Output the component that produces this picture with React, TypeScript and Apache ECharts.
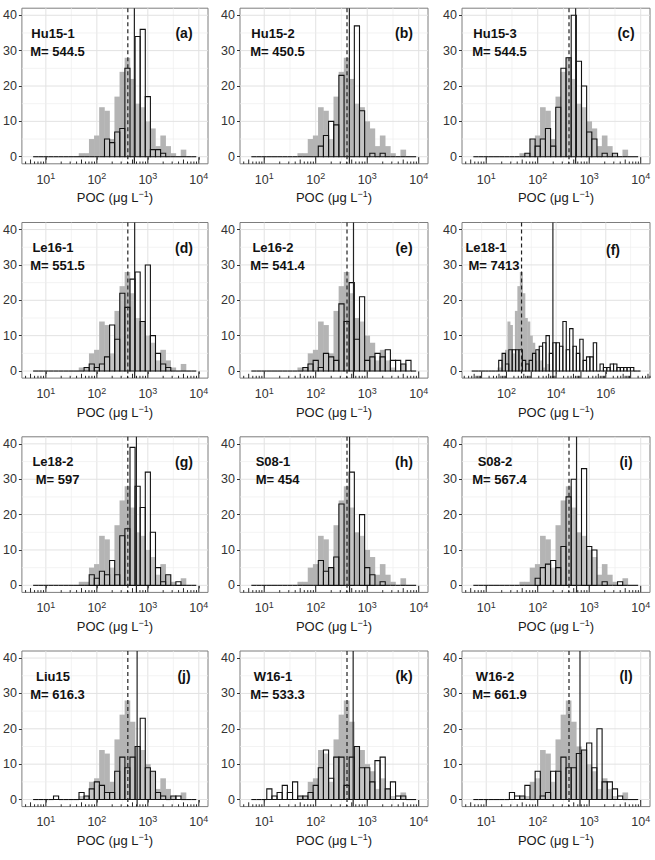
import React, { useEffect, useRef } from "react";
import * as echarts from "echarts";

const FONT = '"Liberation Sans", Arial, Helvetica, sans-serif';

// Histogram bins live in log10(POC) space.
const STD_FIRST_EDGE = 0.75; // outlined histograms of the standard panels
const GRAY_FIRST_EDGE = 1.65; // observed distribution
const BIN_WIDTH = 0.1;
const WIDE_FIRST_EDGE = 0.6; // Le18-1 covers a far wider range
const WIDE_BIN_WIDTH = 0.136;

// Observed POC distribution (grey), bins from 10^1.65 in 0.1-decade steps
const observedCounts = [1, 1, 5, 6, 14, 13, 5, 17, 24, 28, 22, 15, 14, 10, 8, 3, 6, 3, 1, 0, 2];
const observedMedian = 405;

// Modelled distributions (outlined), bins centred at 10^0.8 ... 10^3.9
const hu15_1 = [
  0, 0, 0, 0, 0, 0, 0, 0, 0, 0,
  0, 0, 0, 0, 5, 4, 7, 8, 25, 0,
  34, 36, 17, 2, 2, 1, 0, 0, 0, 0,
  0, 0,
];
const hu15_2 = [
  0, 0, 0, 0, 0, 0, 0, 0, 0, 0,
  0, 0, 0, 3, 6, 10, 9, 23, 0, 0,
  37, 13, 0, 1, 0, 1, 0, 0, 0, 0,
  0, 0,
];
const hu15_3 = [
  0, 0, 0, 0, 0, 0, 0, 0, 0, 0,
  1, 5, 3, 5, 8, 3, 14, 25, 28, 40,
  27, 20, 7, 5, 0, 1, 0, 1, 0, 0,
  0, 0,
];
const le16_1 = [
  0, 0, 0, 0, 0, 0, 0, 0, 0, 0,
  1, 2, 1, 2, 4, 13, 9, 22, 18, 26,
  28, 14, 30, 10, 5, 2, 1, 0, 0, 0,
  0, 0,
];
const le16_2 = [
  0, 0, 0, 0, 0, 0, 0, 0, 0, 0,
  1, 2, 3, 1, 5, 4, 3, 19, 14, 25,
  9, 21, 3, 4, 5, 4, 6, 3, 3, 2,
  3, 0,
];
const le18_2 = [
  0, 0, 0, 0, 0, 0, 0, 0, 0, 0,
  0, 3, 2, 4, 3, 7, 3, 14, 16, 39,
  28, 22, 32, 15, 5, 1, 3, 0, 1, 0,
  0, 0,
];
const s08_1 = [
  0, 0, 0, 0, 0, 0, 0, 0, 0, 0,
  0, 0, 0, 7, 4, 5, 8, 23, 0, 32,
  0, 20, 5, 3, 0, 1, 0, 0, 0, 0,
  0, 0,
];
const s08_2 = [
  0, 0, 0, 0, 0, 0, 0, 0, 0, 0,
  0, 0, 2, 5, 6, 7, 5, 11, 25, 30,
  0, 33, 11, 10, 0, 1, 0, 0, 1, 0,
  0, 0,
];
const liu15 = [
  0, 0, 0, 0, 1, 0, 0, 0, 0, 2,
  1, 3, 5, 4, 2, 2, 8, 12, 9, 12,
  15, 23, 9, 8, 2, 1, 0, 1, 1, 0,
  0, 0,
];
const w16_1 = [
  0, 0, 0, 3, 1, 2, 4, 2, 5, 1,
  1, 2, 4, 9, 14, 6, 12, 12, 4, 12,
  15, 9, 9, 5, 11, 12, 3, 5, 1, 1,
  0, 0,
];
const w16_2 = [
  0, 0, 0, 0, 0, 0, 0, 2, 1, 1,
  4, 0, 8, 1, 2, 8, 8, 12, 9, 9,
  13, 14, 16, 9, 20, 5, 5, 3, 1, 0,
  0, 0,
];
// Le18-1, bins from 10^0.6 in 0.136-decade steps
const le18_1 = [
  0, 0, 0, 0, 0, 0, 0, 0, 3, 5,
  2, 6, 6, 6, 6, 3, 2, 3, 5, 6,
  7, 8, 10, 5, 8, 8, 7, 14, 6, 12,
  7, 5, 9, 3, 4, 4, 8, 0, 2, 1,
  1, 2, 2, 1, 1, 1, 1, 1, 0, 0,
];

const panelNames = ["Hu15-1", "Hu15-2", "Hu15-3", "Le16-1", "Le16-2", "Le18-1", "Le18-2", "S08-1", "S08-2", "Liu15", "W16-1", "W16-2"];
const panelMedians = [544.5, 450.5, 544.5, 551.5, 541.4, 7413, 597, 454, 567.4, 616.3, 533.3, 661.9];
const panelLetters = ["(a)", "(b)", "(c)", "(d)", "(e)", "(f)", "(g)", "(h)", "(i)", "(j)", "(k)", "(l)"];
const panelCounts = [hu15_1, hu15_2, hu15_3, le16_1, le16_2, le18_1, le18_2, s08_1, s08_2, liu15, w16_1, w16_2];
const WIDE_PANEL = 5;

// Axis breaks
const stdDecades = [1, 2, 3, 4];
const stdMinorBreaks = [1.5, 2.5, 3.5];
const wideDecades = [2, 4, 6];
const wideMinorBreaks = [1, 3, 5, 7];
const countTicks = [0, 10, 20, 30, 40];
const countMinorBreaks = [5, 15, 25, 35];

// Layout
const COL_LEFT = [20, 240, 462];
const ROW_TOP = [8.2, 222.5, 436.8, 651];
const PANEL_W = 188;
const PANEL_H = 155.6;
const STD_X: [number, number] = [0.53, 4.18];
const WIDE_X: [number, number] = [0.21, 7.78];

const TEXT_DARK = "#333333";

const supRich = (size: number, supSize: number, color: string) => ({
  b: { fontSize: size, fontFamily: FONT, color, lineHeight: size, padding: [3, 0, 0, 0] },
  s: { fontSize: supSize, fontFamily: FONT, color, lineHeight: supSize, verticalAlign: "top" },
});

function binItems(firstEdge: number, width: number, counts: number[]) {
  return counts.map((c, k) => [firstEdge + k * width, firstEdge + (k + 1) * width, c]);
}

// annotation-style log ticks along the bottom of a panel
function logTicks(range: [number, number]) {
  const out: number[][] = [];
  for (let k = Math.floor(range[0]); k <= Math.ceil(range[1]); k++) {
    for (let m = 1; m <= 9; m++) {
      const v = k + Math.log10(m);
      if (v >= range[0] && v <= range[1]) out.push([v, m === 1 ? 6.6 : m === 5 ? 4.3 : 2.3]);
    }
  }
  return out;
}

function buildOption() {
  const grid: any[] = [];
  const xAxis: any[] = [];
  const yAxis: any[] = [];
  const series: any[] = [];
  const graphic: any[] = [];

  panelNames.forEach((name, i) => {
    const col = i % 3;
    const row = Math.floor(i / 3);
    const left = COL_LEFT[col];
    const top = ROW_TOP[row];
    const wide = i === WIDE_PANEL;
    const xr = wide ? WIDE_X : STD_X;
    const decades = wide ? wideDecades : stdDecades;
    const minor = wide ? wideMinorBreaks : stdMinorBreaks;

    grid.push({
      left,
      top,
      width: PANEL_W,
      height: PANEL_H,
      show: true,
      borderColor: "#7d7d7d",
      borderWidth: 1,
      backgroundColor: "transparent",
    });

    xAxis.push({
      gridIndex: i,
      type: "value",
      min: xr[0],
      max: xr[1],
      axisLine: { show: false },
      splitLine: { show: false },
      axisTick: { show: true, customValues: decades, length: 3, lineStyle: { color: TEXT_DARK, width: 1 } },
      axisLabel: {
        customValues: decades,
        margin: 8,
        formatter: (v: number) => `{b|10}{s|${v}}`,
        rich: supRich(12.5, 9, TEXT_DARK),
      },
      name: "{b|POC (μg L}{s|−1}{b|)}",
      nameLocation: "middle",
      nameGap: 26,
      nameTextStyle: { rich: supRich(13, 9, "#1a1a1a") },
    });

    yAxis.push({
      gridIndex: i,
      type: "value",
      min: -2,
      max: 42,
      axisLine: { show: false },
      splitLine: { show: false },
      axisTick: { show: true, customValues: countTicks, length: 3, lineStyle: { color: TEXT_DARK, width: 1 } },
      axisLabel: { customValues: countTicks, margin: 5, color: TEXT_DARK, fontSize: 12.5, fontFamily: FONT },
    });

    const base = { type: "custom", coordinateSystem: "cartesian2d", xAxisIndex: i, yAxisIndex: i, silent: true, clip: false };

    // panel grid lines: [value, 0 = vertical / 1 = horizontal, major]
    const gridData: number[][] = [
      ...decades.map((v) => [v, 0, 1]),
      ...minor.filter((v) => v > xr[0] && v < xr[1]).map((v) => [v, 0, 0]),
      ...countTicks.map((v) => [v, 1, 1]),
      ...countMinorBreaks.map((v) => [v, 1, 0]),
    ];
    series.push({
      ...base,
      z: 1,
      data: gridData,
      encode: { x: 0, y: 1 },
      renderItem: (params: any, api: any) => {
        const cs = params.coordSys;
        const v = api.value(0);
        const major = api.value(2) === 1;
        const style = { stroke: major ? "#e2e2e2" : "#eeeeee", lineWidth: major ? 1 : 0.7 };
        if (api.value(1) === 0) {
          const x = api.coord([v, 0])[0];
          return { type: "line", shape: { x1: x, y1: cs.y, x2: x, y2: cs.y + cs.height }, style };
        }
        const y = api.coord([xr[0], v])[1];
        return { type: "line", shape: { x1: cs.x, y1: y, x2: cs.x + cs.width, y2: y }, style };
      },
    });

    // observed distribution (filled grey)
    series.push({
      ...base,
      z: 2,
      data: binItems(GRAY_FIRST_EDGE, BIN_WIDTH, observedCounts),
      encode: { x: [0, 1], y: 2 },
      renderItem: (_p: any, api: any) => {
        const c = api.value(2);
        if (!c) return null;
        const a = api.coord([api.value(0), c]);
        const b = api.coord([api.value(1), 0]);
        return {
          type: "rect",
          shape: { x: a[0] - 0.25, y: a[1], width: b[0] - a[0] + 0.5, height: b[1] - a[1] },
          style: { fill: "#b4b4b4" },
        };
      },
    });

    // modelled distribution (outlined)
    series.push({
      ...base,
      z: 3,
      data: wide
        ? binItems(WIDE_FIRST_EDGE, WIDE_BIN_WIDTH, panelCounts[i])
        : binItems(STD_FIRST_EDGE, BIN_WIDTH, panelCounts[i]),
      encode: { x: [0, 1], y: 2 },
      renderItem: (_p: any, api: any) => {
        const c = api.value(2);
        const a = api.coord([api.value(0), c]);
        const b = api.coord([api.value(1), 0]);
        if (!c) {
          return { type: "line", shape: { x1: a[0], y1: b[1], x2: b[0], y2: b[1] }, style: { stroke: "#111", lineWidth: 1.1 } };
        }
        return {
          type: "rect",
          shape: { x: a[0], y: a[1], width: b[0] - a[0], height: b[1] - a[1] },
          style: { fill: "rgba(255,255,255,0.22)", stroke: "#111", lineWidth: 1.1 },
        };
      },
    });

    // medians: observed (dashed) and modelled (solid)
    series.push({
      ...base,
      z: 4,
      data: [
        [Math.log10(observedMedian), 1],
        [Math.log10(panelMedians[i]), 0],
      ],
      encode: { x: 0, y: 1 },
      renderItem: (params: any, api: any) => {
        const cs = params.coordSys;
        const x = api.coord([api.value(0), 0])[0];
        const dashed = api.value(1) === 1;
        return {
          type: "line",
          shape: { x1: x, y1: cs.y, x2: x, y2: cs.y + cs.height },
          style: { stroke: "#222", lineWidth: 1.2, lineDash: dashed ? [4, 3] : null },
        };
      },
    });

    // log ticks along the bottom edge
    series.push({
      ...base,
      z: 4,
      data: logTicks(xr),
      encode: { x: 0, y: 1 },
      renderItem: (params: any, api: any) => {
        const cs = params.coordSys;
        const x = api.coord([api.value(0), 0])[0];
        const bottom = cs.y + cs.height;
        return {
          type: "line",
          shape: { x1: x, y1: bottom, x2: x, y2: bottom - api.value(1) },
          style: { stroke: "#111", lineWidth: 0.9 },
        };
      },
    });

    const nameX = wide ? 24 : 33;
    const mX = wide ? 32 : 37.5;
    const letterX = wide ? 151 : 164;
    const letterY = wide ? 27 : 25;
    const textStyle = { fontFamily: FONT, fontWeight: "bold", fill: "#111", align: "center", verticalAlign: "middle" };
    graphic.push(
      { type: "text", x: left + nameX, y: top + 25, z: 10, style: { ...textStyle, text: name, fontSize: 13 } },
      { type: "text", x: left + mX, y: top + 43, z: 10, style: { ...textStyle, text: `M= ${panelMedians[i]}`, fontSize: 13 } },
      { type: "text", x: left + letterX, y: top + letterY, z: 10, style: { ...textStyle, text: panelLetters[i], fontSize: 14 } }
    );
  });

  return {
    animation: false,
    backgroundColor: "#ffffff",
    textStyle: { fontFamily: FONT },
    grid,
    xAxis,
    yAxis,
    series,
    graphic,
  };
}

export default function App() {
  const ref = useRef<HTMLDivElement>(null);
  useEffect(() => {
    document.body.style.margin = "0";
    if (!ref.current) return;
    const chart = echarts.init(ref.current, null, { renderer: "svg" });
    chart.setOption(buildOption() as any);
    return () => chart.dispose();
  }, []);
  return <div ref={ref} style={{ width: 655, height: 860 }} />;
}
